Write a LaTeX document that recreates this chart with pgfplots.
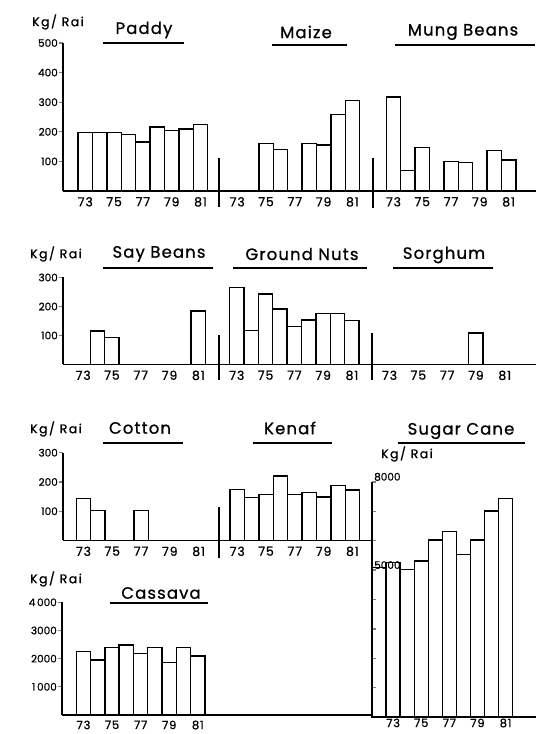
\documentclass[border=0pt]{standalone}
\usepackage{fontspec}
\setmainfont{Poppins}
\newfontfamily\semib{Poppins}[FakeBold=0.9]
\newfontfamily\semibsp{Poppins}[FakeBold=0.9, LetterSpace=7]
\newfontfamily\semibwide{Poppins}[FakeBold=0.9, LetterSpace=12]
\usepackage{pgfplots}
\pgfplotsset{compat=1.18}
\usepackage{pgfplotstable}

% Row 1: Paddy, Maize, Mung Beans (Kg/Rai)
\pgfplotstableread{
year paddy maize mung
73 197 nan 317
74 197 nan 70
75 197 161 147
76 190 141 nan
77 165 nan 99
78 216 161 97
79 205 156 nan
80 210 258 136
81 224 306 105
}\rowA
% Row 2: Say Beans, Ground Nuts, Sorghum
\pgfplotstableread{
year soy gnuts sorghum
73 nan 266 nan
74 116 118 nan
75 93 243 nan
76 nan 191 nan
77 nan 131 nan
78 nan 154 nan
79 nan 176 108
80 nan 176 nan
81 185 151 nan
}\rowB
% Row 3: Cotton, Kenaf
\pgfplotstableread{
year cotton kenaf
73 143 175
74 103 147
75 nan 157
76 nan 220
77 103 157
78 nan 163
79 nan 149
80 nan 188
81 nan 172
}\rowC
% Sugar cane
\pgfplotstableread{
year sugar
72 5090
73 5260
74 5030
75 5310
76 6020
77 6320
78 5540
79 6020
80 7010
81 7430
}\sugar
% Cassava
\pgfplotstableread{
year cassava
73 2249
74 1953
75 2402
76 2485
77 2189
78 2391
79 1858
80 2402
81 2095
}\cassava

\pgfplotsset{
  panel/.style={
    scale only axis,
    axis x line*=bottom, axis y line*=left,
    axis line style={line width=1.8bp},
    clip=false,
    ymin=0, xmin=0,
    tick align=outside,
    major tick length=4bp,
    ytick style={line width=1.3bp},
    xtick style={draw=none},
    xticklabel style={font=\semibsp\fontsize{12.5}{13}\selectfont, inner sep=2bp},
    yticklabel style={font=\semib\fontsize{10.5}{11}\selectfont, inner sep=1bp},
  },
  bottomlabels/.style={
    xticklabel style={font=\semibsp\fontsize{11.5}{12}\selectfont, inner sep=0.5bp, yshift=-1bp},
  },
  cropbar/.style={ybar, bar width=1, bar shift=0pt, draw=black, fill=white, line width=1.4bp},
  sep/.style={black, line width=1.6bp},
}
\tikzset{
  ttl/.style={font=\semibsp\fontsize{16.5}{17}\selectfont},
  unit/.style={font=\semibwide\fontsize{12.5}{13}\selectfont},
  ul/.style={line width=1.8bp},
}

\begin{document}
\begin{tikzpicture}
\useasboundingbox (0,0) rectangle (536bp,734bp);

% ---------- Row 1 ----------
\begin{axis}[panel, at={(63bp,543bp)}, anchor=south west,
  width=473bp, height=148bp, xmax=32.85, ymax=500,
  ytick={100,200,300,400,500}, yticklabels={100,200,300,400,500},
  xtick={1.55,3.55,5.55,7.55,9.55,12.1,14.1,16.1,18.1,20.1,22.95,24.95,26.95,28.95,30.95},
  xticklabels={73,75,77,79,81,73,75,77,79,81,73,75,77,79,81}]
\addplot[cropbar] table[x expr=\thisrow{year}-73+1.55, y=paddy] {\rowA};
\addplot[cropbar] table[x expr=\thisrow{year}-73+12.1, y=maize] {\rowA};
\addplot[cropbar] table[x expr=\thisrow{year}-73+22.95, y=mung] {\rowA};
\addplot[sep] coordinates {(10.83,-54) (10.83,111)};
\addplot[sep] coordinates {(21.53,-57) (21.53,111)};
\end{axis}

% ---------- Row 2 ----------
\begin{axis}[panel, at={(63bp,369.5bp)}, anchor=south west,
  width=473bp, height=87bp, xmax=32.85, ymax=300,
  ytick={100,200,300}, yticklabels={100,200,300},
  xtick={1.4,3.4,5.4,7.4,9.4,12.07,14.07,16.07,18.07,20.07,22.68,24.68,26.68,28.68,30.68},
  xticklabels={73,75,77,79,81,73,75,77,79,81,73,75,77,79,81}]
\addplot[cropbar] table[x expr=\thisrow{year}-73+1.4, y=soy] {\rowB};
\addplot[cropbar] table[x expr=\thisrow{year}-73+12.07, y=gnuts] {\rowB};
\addplot[cropbar] table[x expr=\thisrow{year}-73+22.68, y=sorghum] {\rowB};
\addplot[sep] coordinates {(10.85,-54) (10.85,102)};
\addplot[sep] coordinates {(21.44,-54) (21.44,108)};
\end{axis}

% ---------- Row 3 ----------
\begin{axis}[panel, at={(63bp,193.5bp)}, anchor=south west,
  width=309bp, height=87.8bp, xmax=21.46, ymax=300,
  ytick={100,200,300}, yticklabels={100,200,300},
  xtick={1.42,3.42,5.42,7.42,9.42,12.1,14.1,16.1,18.1,20.1},
  xticklabels={73,75,77,79,81,73,75,77,79,81}]
\addplot[cropbar] table[x expr=\thisrow{year}-73+1.42, y=cotton] {\rowC};
\addplot[cropbar] table[x expr=\thisrow{year}-73+12.1, y=kenaf] {\rowC};
\addplot[sep] coordinates {(10.83,-60) (10.83,114)};
\end{axis}

% ---------- Sugar cane ----------
\begin{axis}[panel, bottomlabels, at={(372bp,17bp)}, anchor=south west,
  width=164bp, height=235bp, xmin=71.5, xmax=83.16, ymax=8000,
  axis on top,
  tick align=inside,
  ytick={1000,2000,3000,4000,5000,6000,7000,8000},
  yticklabels={,,,,5000,,,8000},
  yticklabel style={anchor=south west, inner sep=1bp, xshift=1bp},
  xtick={73,75,77,79,81}, xticklabels={73,75,77,79,81}]
\addplot[cropbar, bar width=1] table[x=year, y=sugar] {\sugar};
\end{axis}

% ---------- Cassava ----------
\begin{axis}[panel, bottomlabels, at={(62bp,19bp)}, anchor=south west,
  width=310bp, height=112.7bp, xmax=21.68, ymax=4000,
  ytick={1000,2000,3000,4000}, yticklabels={1\,000,2000,3000,4\,000},
  xtick={1.5,3.5,5.5,7.5,9.5}, xticklabels={73,75,77,79,81}]
\addplot[cropbar] table[x expr=\thisrow{year}-73+1.5, y=cassava] {\cassava};
\end{axis}

% ---------- Titles ----------
\node[unit] at (58bp,712bp) {Kg/ Rai};
\node[ttl] at (144bp,704bp) {Paddy};
\draw[ul] (103bp,691bp) -- (184bp,691bp);
\node[ttl] at (306bp,702bp) {Maize};
\draw[ul] (272bp,689bp) -- (347bp,689bp);
\node[ttl] at (463bp,702bp) {Mung\ Beans};
\draw[ul] (395bp,689bp) -- (535bp,689bp);

\node[unit] at (56bp,480bp) {Kg/ Rai};
\node[ttl] at (159bp,480bp) {Say Beans};
\draw[ul] (103bp,466bp) -- (213bp,466bp);
\node[ttl] at (302bp,480bp) {Ground Nuts};
\draw[ul] (233bp,466bp) -- (367bp,466bp);
\node[ttl] at (444bp,479bp) {Sorghum};
\draw[ul] (393bp,466bp) -- (493bp,466bp);

\node[unit] at (56bp,305bp) {Kg/ Rai};
\node[ttl] at (140bp,306bp) {Cotton};
\draw[ul] (103bp,291bp) -- (183bp,291bp);
\node[ttl] at (290bp,306bp) {Kenaf};
\draw[ul] (253bp,291bp) -- (332bp,291bp);
\node[ttl] at (461bp,303bp) {Sugar\ Cane};
\draw[ul] (398bp,291bp) -- (525bp,291bp);
\node[unit] at (407bp,280bp) {Kg/ Rai};

\node[unit] at (56bp,155bp) {Kg/ Rai};
\node[ttl] at (161bp,141bp) {Cassava};
\draw[ul] (110bp,131bp) -- (208bp,131bp);
\end{tikzpicture}
\end{document}
